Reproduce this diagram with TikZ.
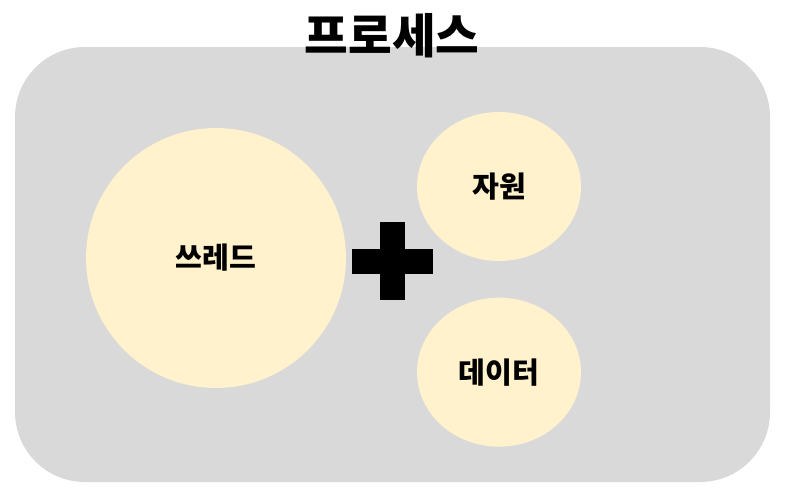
\documentclass[tikz,border=0pt]{standalone}
\usepackage{fontspec}
\setmainfont{Noto Sans CJK KR}
\usepackage{xcolor}
\usepackage{tikz}
\usetikzlibrary{positioning, shapes}

\definecolor{procgray}{HTML}{D9D9D9}
\definecolor{partyellow}{HTML}{FFF2CC}

\begin{document}
\begin{tikzpicture}[
  x=0.02cm, y=0.02cm,
  part/.style={ellipse, fill=partyellow, inner sep=0pt,
               font=\fontsize{16.6}{19}\selectfont\bfseries},
  bigpart/.style={part, minimum width=5.2cm, minimum height=5.2cm},
  smallpart/.style={part, minimum width=3.28cm, minimum height=2.98cm},
  plusbar/.style={fill=black}
]
  \useasboundingbox (0,0) rectangle (786,498);
  \fill[procgray, rounded corners=1.4cm] (15,16) rectangle (770,451);
  \node[font=\fontsize{27}{32}\selectfont\bfseries] (title) at (392,462) {프로세스};

  \node[bigpart]   (thread) at (216,240) {쓰레드};
  \node[smallpart] (res)    at (499,311.5) {자원};
  \node[smallpart, below=0.72cm of res] (data) {데이터};

  % plus sign
  \coordinate (plus) at (392.5,237);
  \fill[plusbar] ([shift={(-40.5,-12.5)}]plus) rectangle ([shift={(40.5,12.5)}]plus);
  \fill[plusbar] ([shift={(-12.5,-39)}]plus) rectangle ([shift={(12.5,39)}]plus);
\end{tikzpicture}
\end{document}
